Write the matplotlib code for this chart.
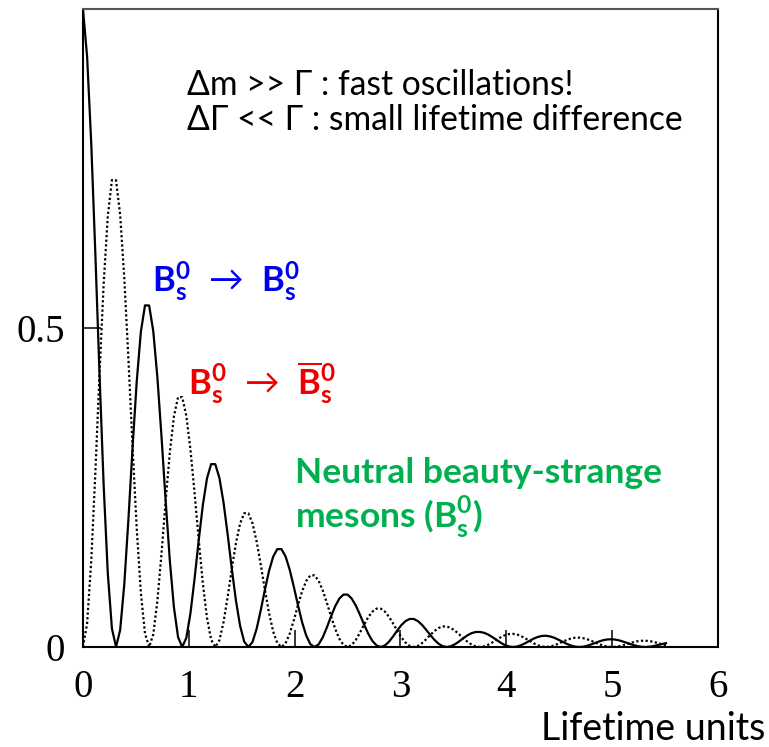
import numpy as np
import matplotlib
matplotlib.use("Agg")
import matplotlib.pyplot as plt

plt.rcParams['font.family'] = ['Lato', 'Open Sans', 'DejaVu Sans']
plt.rcParams['mathtext.fontset'] = 'custom'
plt.rcParams['mathtext.rm'] = 'Lato'
plt.rcParams['mathtext.bf'] = 'Lato:bold'

# probability vs time (16 samples per oscillation, 0 .. 5.5 lifetimes)
t_end = 5.5078125

# B_s0 -> B_s0 (solid)
bs_to_bs = [
    1.0000, 0.9251, 0.7894, 0.6149, 0.4277, 0.2539, 0.1158, 0.0290,
    0.0000, 0.0268, 0.0991, 0.2008, 0.3129, 0.4161, 0.4940, 0.5354,
    0.5353, 0.4952, 0.4225, 0.3291, 0.2289, 0.1359, 0.0620, 0.0155,
    0.0000, 0.0143, 0.0530, 0.1075, 0.1675, 0.2227, 0.2644, 0.2866,
    0.2865, 0.2650, 0.2262, 0.1762, 0.1225, 0.0727, 0.0332, 0.0083,
    0.0000, 0.0077, 0.0284, 0.0575, 0.0896, 0.1192, 0.1415, 0.1534,
    0.1534, 0.1419, 0.1211, 0.0943, 0.0656, 0.0389, 0.0178, 0.0044,
    0.0000, 0.0041, 0.0152, 0.0308, 0.0480, 0.0638, 0.0758, 0.0821,
    0.0821, 0.0759, 0.0648, 0.0505, 0.0351, 0.0208, 0.0095, 0.0024,
    0.0000, 0.0022, 0.0081, 0.0165, 0.0257, 0.0342, 0.0405, 0.0439,
    0.0439, 0.0406, 0.0347, 0.0270, 0.0188, 0.0112, 0.0051, 0.0013,
    0.0000, 0.0012, 0.0044, 0.0088, 0.0137, 0.0183, 0.0217, 0.0235,
    0.0235, 0.0223, 0.0195, 0.0156, 0.0111, 0.0068, 0.0031, 0.0008,
    0.0000, 0.0007, 0.0029, 0.0060, 0.0096, 0.0130, 0.0157, 0.0173,
    0.0176, 0.0165, 0.0144, 0.0114, 0.0081, 0.0049, 0.0023, 0.0006,
    0.0000, 0.0005, 0.0020, 0.0042, 0.0066, 0.0090, 0.0109, 0.0119,
    0.0121, 0.0113, 0.0098, 0.0077, 0.0055, 0.0033, 0.0016, 0.0004,
    0.0000, 0.0004, 0.0014, 0.0029, 0.0044, 0.0060,
]

# B_s0 -> anti-B_s0 (dotted)
bs_to_bsbar = [
    0.0000, 0.0366, 0.1354, 0.2745, 0.4277, 0.5687, 0.6752, 0.7318,
    0.7316, 0.6768, 0.5775, 0.4499, 0.3129, 0.1858, 0.0848, 0.0212,
    0.0000, 0.0196, 0.0725, 0.1469, 0.2289, 0.3044, 0.3614, 0.3917,
    0.3916, 0.3623, 0.3091, 0.2408, 0.1675, 0.0994, 0.0454, 0.0113,
    0.0000, 0.0105, 0.0388, 0.0787, 0.1225, 0.1629, 0.1935, 0.2097,
    0.2096, 0.1939, 0.1655, 0.1289, 0.0896, 0.0532, 0.0243, 0.0061,
    0.0000, 0.0056, 0.0208, 0.0421, 0.0656, 0.0872, 0.1035, 0.1122,
    0.1122, 0.1038, 0.0886, 0.0690, 0.0480, 0.0285, 0.0130, 0.0032,
    0.0000, 0.0030, 0.0111, 0.0225, 0.0351, 0.0467, 0.0554, 0.0601,
    0.0601, 0.0556, 0.0474, 0.0369, 0.0257, 0.0152, 0.0070, 0.0017,
    0.0000, 0.0016, 0.0060, 0.0121, 0.0188, 0.0250, 0.0297, 0.0322,
    0.0321, 0.0297, 0.0254, 0.0198, 0.0137, 0.0082, 0.0037, 0.0009,
    0.0000, 0.0009, 0.0034, 0.0070, 0.0111, 0.0151, 0.0183, 0.0202,
    0.0206, 0.0195, 0.0170, 0.0135, 0.0096, 0.0058, 0.0027, 0.0007,
    0.0000, 0.0007, 0.0025, 0.0052, 0.0081, 0.0110, 0.0132, 0.0145,
    0.0147, 0.0138, 0.0120, 0.0095, 0.0066, 0.0040, 0.0019, 0.0005,
    0.0000, 0.0004, 0.0017, 0.0034, 0.0055, 0.0073, 0.0088, 0.0097,
    0.0098, 0.0093, 0.0080, 0.0062, 0.0044, 0.0028,
]

x_ticks = [0, 1, 2, 3, 4, 5, 6]
y_ticks = [0, 0.5]
y_tick_labels = ['0', '0.5']

t = np.linspace(0.0, t_end, len(bs_to_bs))

fig = plt.figure(figsize=(7.69, 7.47), dpi=100)
ax = fig.add_axes([0.1079, 0.1339, 0.8258, 0.8541])

ax.plot(t, bs_to_bs, color='black', lw=1.6, solid_joinstyle='round')
ax.plot(t, bs_to_bsbar, color='black', lw=1.6, linestyle=(0, (1, 1.1)))

ax.set_xlim(0, 6)
ax.set_ylim(0, 1)
ax.set_xticks(x_ticks)
ax.set_xticklabels([str(v) for v in x_ticks], family='Liberation Serif', fontsize=28)
ax.set_yticks(y_ticks)
ax.set_yticklabels(y_tick_labels, family='Liberation Serif', fontsize=28)
ax.tick_params(axis='x', direction='in', length=12, width=1.1, pad=16)
ax.tick_params(axis='y', direction='in', length=13, width=1.1, pad=13)
for s in ax.spines.values():
    s.set_linewidth(1.5)
ax.spines['top'].set_color('#555555')

# annotations
ax.text(0.983, 0.865, 'Δm >> Γ : fast oscillations!', fontsize=24.2, va='baseline')
ax.text(0.983, 0.8105, 'ΔΓ << Γ : small lifetime difference', fontsize=24.2, va='baseline')

ax.text(0.652, 0.556, r'$\mathbf{B_s^0}\ \rightarrow\ \mathbf{B_s^0}$',
        fontsize=25, color='#0000EE', va='baseline')
ax.text(0.992, 0.395, r'$\mathbf{B_s^0}\ \rightarrow\ \mathbf{\overline{B}_s^0}$',
        fontsize=25, color='#EE0000', va='baseline')

ax.text(2.003, 0.257, 'Neutral beauty-strange', fontsize=25.5, fontweight='bold',
        color='#00B050', va='baseline')
ax.text(2.003, 0.1865, r'mesons (B$_\mathbf{s}^\mathbf{0}$)', fontsize=25.5, fontweight='bold',
        color='#00B050', va='baseline')

fig.text(0.9948, 0.0094, 'Lifetime units', fontsize=27, ha='right', va='baseline')

fig.savefig('out.png', dpi=100)
